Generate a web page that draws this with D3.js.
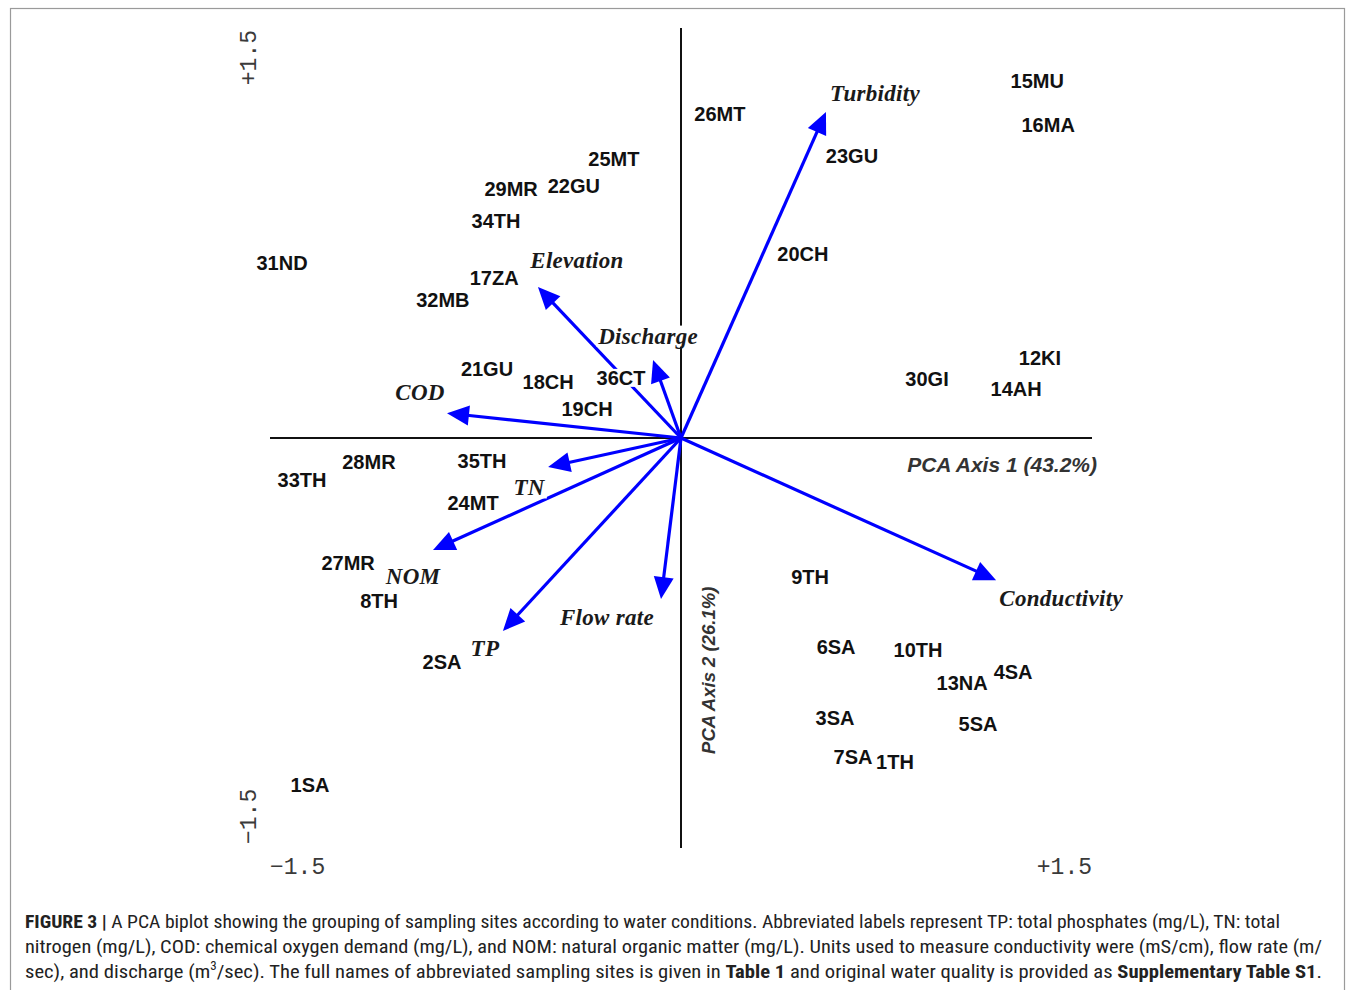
<!DOCTYPE html>
<html lang="en">
    <head>
        <meta charset="utf-8">
        <title>PCA biplot</title>
        <script type="text/javascript" src="https://d3js.org/d3.v7.min.js"></script>
        <style>
            body { margin: 0; background: #FFFFFF; }
            .site { font-family: "Liberation Sans", Arial, sans-serif; font-weight: 700; font-size: 20px; fill: #111; }
            .var { font-family: "Liberation Serif", "Times New Roman", serif; font-style: italic; font-weight: 700; font-size: 23px; fill: #1a1a1a; letter-spacing: 0.3px; }
            .tick { font-family: "Liberation Mono", "DejaVu Sans Mono", monospace; font-size: 23px; fill: #3a3a3a; }
            .axlab { font-family: "Liberation Sans", Arial, sans-serif; font-style: italic; font-weight: 700; fill: #333; }
            .caption { font-family: "Liberation Sans Narrow", "Roboto Condensed", "Liberation Sans", sans-serif; font-size: 19px; fill: #222; }
        </style>
    </head>
    <body>
        <script>
        // site scores (PCA axis 1, axis 2)
        const sites = ["15MU", "16MA", "26MT", "23GU", "25MT", "29MR", "22GU", "34TH", "31ND", "17ZA",
                       "32MB", "20CH", "12KI", "30GI", "14AH", "21GU", "18CH", "36CT", "19CH", "28MR",
                       "33TH", "35TH", "24MT", "27MR", "8TH", "2SA", "9TH", "6SA", "10TH", "13NA",
                       "4SA", "3SA", "5SA", "7SA", "1TH", "1SA"];
        const siteX = [1.30, 1.34, 0.142, 0.624, -0.245, -0.620, -0.391, -0.675, -1.456, -0.682,
                       -0.869, 0.445, 1.310, 0.898, 1.223, -0.708, -0.485, -0.219, -0.343, -1.139,
                       -1.383, -0.726, -0.759, -1.215, -1.102, -0.872, 0.471, 0.566, 0.865, 1.026,
                       1.212, 0.562, 1.084, 0.628, 0.781, -1.354];
        const siteY = [1.306, 1.145, 1.185, 1.032, 1.021, 0.911, 0.922, 0.794, 0.640, 0.585,
                       0.505, 0.673, 0.293, 0.216, 0.179, 0.252, 0.205, 0.220, 0.106, -0.088,
                       -0.154, -0.084, -0.238, -0.457, -0.596, -0.820, -0.509, -0.765, -0.776, -0.896,
                       -0.856, -1.024, -1.046, -1.167, -1.186, -1.270];

        // variable loadings (arrow tips)
        const variables = ["Turbidity", "Elevation", "Discharge", "COD", "TN", "NOM", "TP", "Flow rate", "Conductivity"];
        const loadX = [0.529, -0.522, -0.102, -0.854, -0.485, -0.905, -0.650, -0.073, 1.150];
        const loadY = [1.193, 0.552, 0.285, 0.091, -0.106, -0.410, -0.706, -0.589, -0.520];

        const axisExtent = [-1.5, 1.5];
        const tickLabels = ["\u22121.5", "+1.5"];
        const axisTitles = ["PCA Axis 1 (43.2%)", "PCA Axis 2 (26.1%)"];

        // where each arrow label sits relative to its tip (px)
        const varLabelOffset = [[49, -18], [39, -27], [-5, -24], [-27, -21], [-19, 21], [-20, 26], [-18, 18], [-54, 19], [65, 18]];

        const W = 1355, H = 990;
        const plot = {left: 270, right: 1092, top: 28, bottom: 848};

        const svg = d3.select("body")
            .append("svg")
                .attr("width", W)
                .attr("height", H)
                .style("background-color", "#FFFFFF");

        // figure frame
        svg.append("rect")
            .attr("x", 10.5).attr("y", 8.5)
            .attr("width", 1334).attr("height", 1000)
            .attr("fill", "none")
            .attr("stroke", "#9a9a9a")
            .attr("stroke-width", 1.2);

        const x = d3.scaleLinear().domain(axisExtent).range([plot.left, plot.right]);
        const y = d3.scaleLinear().domain(axisExtent).range([plot.bottom, plot.top]);

        // axes through the origin
        svg.append("line")
            .attr("x1", x(axisExtent[0])).attr("x2", x(axisExtent[1]))
            .attr("y1", y(0)).attr("y2", y(0))
            .attr("stroke", "#111").attr("stroke-width", 2);
        svg.append("line")
            .attr("x1", x(0)).attr("x2", x(0))
            .attr("y1", y(axisExtent[1])).attr("y2", y(axisExtent[0]))
            .attr("stroke", "#111").attr("stroke-width", 2);

        // tick labels, horizontal
        svg.append("text").attr("class", "tick")
            .attr("x", x(axisExtent[0])).attr("y", y(axisExtent[0]) + 26)
            .attr("text-anchor", "start").text(tickLabels[0]);
        svg.append("text").attr("class", "tick")
            .attr("x", x(axisExtent[1])).attr("y", y(axisExtent[0]) + 26)
            .attr("text-anchor", "end").text(tickLabels[1]);
        // tick labels, vertical
        svg.append("text").attr("class", "tick")
            .attr("transform", `translate(${x(axisExtent[0]) - 14}, ${y(axisExtent[1]) + 2}) rotate(-90)`)
            .attr("text-anchor", "end").text(tickLabels[1]);
        svg.append("text").attr("class", "tick")
            .attr("transform", `translate(${x(axisExtent[0]) - 14}, ${y(axisExtent[0]) - 4}) rotate(-90)`)
            .attr("text-anchor", "start").text(tickLabels[0]);

        // axis titles
        svg.append("text").attr("class", "axlab")
            .attr("x", x(axisExtent[1]) + 5).attr("y", y(0) + 34)
            .attr("text-anchor", "end")
            .style("font-size", "21px")
            .text(axisTitles[0]);
        svg.append("text").attr("class", "axlab")
            .attr("transform", `translate(${x(0) + 34}, ${y(-0.85)}) rotate(-90)`)
            .attr("text-anchor", "middle")
            .style("font-size", "18.5px")
            .text(axisTitles[1]);

        // loading arrows
        const loadings = variables.map((v, i) => ({name: v, x: loadX[i], y: loadY[i], off: varLabelOffset[i]}));
        const headLen = 22, headHalf = 10;

        const arrows = svg.append("g");
        loadings.forEach(function(d) {
            const x0 = x(0), y0 = y(0), x1 = x(d.x), y1 = y(d.y);
            const len = Math.hypot(x1 - x0, y1 - y0);
            const ux = (x1 - x0) / len, uy = (y1 - y0) / len;
            const bx = x1 - ux * headLen, by = y1 - uy * headLen;
            arrows.append("line")
                .attr("x1", x0).attr("y1", y0)
                .attr("x2", bx + ux * 2).attr("y2", by + uy * 2)
                .attr("stroke", "#0000FF")
                .attr("stroke-width", 3.2);
            arrows.append("polygon")
                .attr("points", [[x1, y1], [bx - uy * headHalf, by + ux * headHalf], [bx + uy * headHalf, by - ux * headHalf]].join(" "))
                .attr("fill", "#0000FF");
        });

        // label with white box behind
        function boxedText(g, cls, px, py, txt) {
            const grp = g.append("g");
            const bg = grp.append("rect").attr("fill", "#FFFFFF");
            const t = grp.append("text")
                .attr("class", cls)
                .attr("x", px).attr("y", py)
                .attr("text-anchor", "middle")
                .attr("dominant-baseline", "central")
                .text(txt);
            const bb = t.node().getBBox();
            bg.attr("x", bb.x - 1).attr("y", bb.y + 2)
              .attr("width", bb.width + 2).attr("height", bb.height - 4);
        }

        const labels = svg.append("g");
        loadings.forEach(function(d) {
            boxedText(labels, "var", x(d.x) + d.off[0], y(d.y) + d.off[1], d.name);
        });
        sites.forEach(function(s, i) {
            boxedText(labels, "site", x(siteX[i]), y(siteY[i]), s);
        });

        // caption
        const cap = svg.append("g").attr("class", "caption");
        const l1 = cap.append("text").attr("x", 25).attr("y", 928)
            .attr("textLength", 1255).attr("lengthAdjust", "spacingAndGlyphs");
        l1.append("tspan").attr("font-weight", 700).text("FIGURE 3 | ");
        l1.append("tspan").text("A PCA biplot showing the grouping of sampling sites according to water conditions. Abbreviated labels represent TP: total phosphates (mg/L), TN: total");

        cap.append("text").attr("x", 25).attr("y", 953)
            .attr("textLength", 1297).attr("lengthAdjust", "spacingAndGlyphs")
            .text("nitrogen (mg/L), COD: chemical oxygen demand (mg/L), and NOM: natural organic matter (mg/L). Units used to measure conductivity were (mS/cm), flow rate (m/");

        const l3 = cap.append("text").attr("x", 25).attr("y", 978)
            .attr("textLength", 1297).attr("lengthAdjust", "spacingAndGlyphs");
        l3.append("tspan").text("sec), and discharge (m");
        l3.append("tspan").attr("dy", -8).style("font-size", "12px").text("3");
        l3.append("tspan").attr("dy", 8).text("/sec). The full names of abbreviated sampling sites is given in ");
        l3.append("tspan").attr("font-weight", 700).text("Table 1");
        l3.append("tspan").text(" and original water quality is provided as ");
        l3.append("tspan").attr("font-weight", 700).text("Supplementary Table S1");
        l3.append("tspan").text(".");
        </script>
    </body>
</html>
